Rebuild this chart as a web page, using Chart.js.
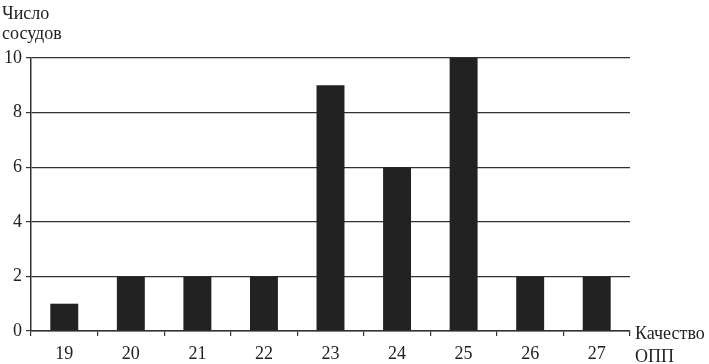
<!DOCTYPE html>
<html>
<head>
<meta charset="utf-8">
<script src="https://cdn.jsdelivr.net/npm/chart.js@4"></script>
<style>
html,body{margin:0;padding:0;background:#fff;}
#wrap{position:relative;width:709px;height:364px;}
canvas{position:absolute;left:0;top:0;}
.lbl{position:absolute;font-family:"Liberation Serif","DejaVu Serif",serif;font-size:18px;color:#222;line-height:20px;white-space:nowrap;}
</style>
</head>
<body>
<div id="wrap">
<canvas id="c" width="709" height="364"></canvas>
<div class="lbl" style="left:2px;top:3px;">Число<br>сосудов</div>
<div class="lbl" style="left:635px;top:322px;line-height:23px;">Качество<br>ОПП</div>
</div>
<script>
const categories = ["19","20","21","22","23","24","25","26","27"];
const vessels = [1, 2, 2, 2, 9, 6, 10, 2, 2];
const yTicks = [0, 2, 4, 6, 8, 10];

const font = {family: '"Liberation Serif","DejaVu Serif",serif', size: 18};
new Chart(document.getElementById('c'), {
  type: 'bar',
  data: {
    labels: categories,
    datasets: [{
      data: vessels,
      backgroundColor: '#222222',
      borderWidth: 0,
      barPercentage: 0.42,
      categoryPercentage: 1.0
    }]
  },
  options: {
    responsive: false,
    animation: false,
    devicePixelRatio: 1,
    layout: {padding: {left: 0, right: 79, top: 58, bottom: 0}},
    plugins: {legend: {display: false}, tooltip: {enabled: false}},
    scales: {
      x: {
        type: 'category',
        offset: true,
        grid: {display: true, drawOnChartArea: false, color: '#333', lineWidth: 1.2, tickLength: 5, offset: true},
        border: {display: true, color: '#333', width: 1.5},
        ticks: {color: '#222', font: font, padding: 7, maxRotation: 0},
        afterFit: s => { s.height = 33; }
      },
      y: {
        min: 0, max: 10,
        afterBuildTicks: s => { s.ticks = yTicks.map(v => ({value: v})); },
        grid: {color: '#333', lineWidth: 1.2, tickLength: 5},
        border: {display: true, color: '#333', width: 1.5},
        ticks: {color: '#222', font: font, padding: 4},
        afterFit: s => { s.width = 31; }
      }
    }
  }
});
</script>
</body>
</html>
